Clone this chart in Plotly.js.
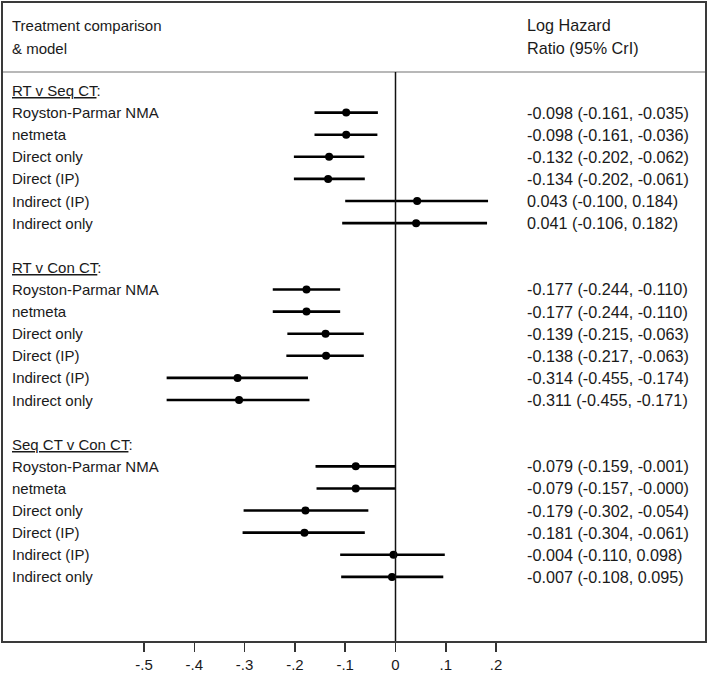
<!DOCTYPE html>
<html>
<head>
<meta charset="utf-8">
<script src="https://cdn.plot.ly/plotly-3.0.1.min.js"></script>
<style>html,body{margin:0;padding:0;background:#fff;}</style>
</head>
<body>
<div id="chart" style="width:709px;height:674px;"></div>
<script>
// ---- data ----
const comparisons = ["RT v Seq CT", "RT v Con CT", "Seq CT v Con CT"];
const models = ["Royston-Parmar NMA", "netmeta", "Direct only", "Direct (IP)", "Indirect (IP)", "Indirect only"];

const estRTvSeq = [-0.098, -0.098, -0.132, -0.134, 0.043, 0.041];
const loRTvSeq  = [-0.161, -0.161, -0.202, -0.202, -0.100, -0.106];
const hiRTvSeq  = [-0.035, -0.036, -0.062, -0.061, 0.184, 0.182];

const estRTvCon = [-0.177, -0.177, -0.139, -0.138, -0.314, -0.311];
const loRTvCon  = [-0.244, -0.244, -0.215, -0.217, -0.455, -0.455];
const hiRTvCon  = [-0.110, -0.110, -0.063, -0.063, -0.174, -0.171];

const estSeqvCon = [-0.079, -0.079, -0.179, -0.181, -0.004, -0.007];
const loSeqvCon  = [-0.159, -0.157, -0.302, -0.304, -0.110, -0.108];
const hiSeqvCon  = [-0.001, -0, -0.054, -0.061, 0.098, 0.095];

const tickVals = [-0.5, -0.4, -0.3, -0.2, -0.1, 0, 0.1, 0.2];
const tickText = ["-.5", "-.4", "-.3", "-.2", "-.1", "0", ".1", ".2"];

const headerLeft = ["Treatment comparison", "& model"];
const headerRight = ["Log Hazard", "Ratio (95% CrI)"];

// ---- build ----
const groups = [
  {est: estRTvSeq, lo: loRTvSeq, hi: hiRTvSeq},
  {est: estRTvCon, lo: loRTvCon, hi: hiRTvCon},
  {est: estSeqvCon, lo: loSeqvCon, hi: hiSeqvCon}
];

function fmt(v) {
  const neg = v < 0 || Object.is(v, -0);
  return (neg ? "-" : "") + Math.abs(v).toFixed(3);
}

const FONT = "Liberation Sans, Arial, sans-serif";
const FS = 15;
const FSR = 16.2;
const TXT = "#1a1a1a";

const xs = [], ys = [], ep = [], em = [];
const annotations = [];
const leftX = 0.0100, rightX = 0.7436;

groups.forEach((g, gi) => {
  const base = gi * 8;
  annotations.push({
    xref: "paper", yref: "y", x: leftX, y: base, xanchor: "left", yanchor: "middle",
    text: "<span style='text-decoration:underline'>" + comparisons[gi] + "</span>:",
    showarrow: false, font: {family: FONT, size: FS, color: TXT}
  });
  models.forEach((m, i) => {
    const y = base + 1 + i;
    xs.push(g.est[i]); ys.push(y);
    ep.push(g.hi[i] - g.est[i]); em.push(g.est[i] - g.lo[i]);
    annotations.push({
      xref: "paper", yref: "y", x: leftX, y: y, xanchor: "left", yanchor: "middle",
      text: m, showarrow: false, font: {family: FONT, size: FS, color: TXT}
    });
    annotations.push({
      xref: "paper", yref: "y", x: rightX, y: y, xanchor: "left", yanchor: "middle",
      text: fmt(g.est[i]) + " (" + fmt(g.lo[i]) + ", " + fmt(g.hi[i]) + ")",
      showarrow: false, font: {family: FONT, size: FSR, color: TXT}
    });
  });
});

const hdrY = [-2.96, -1.92];
headerLeft.forEach((t, i) => annotations.push({
  xref: "paper", yref: "y", x: leftX, y: hdrY[i], xanchor: "left", yanchor: "middle",
  text: t, showarrow: false, font: {family: FONT, size: FS, color: TXT}
}));
headerRight.forEach((t, i) => annotations.push({
  xref: "paper", yref: "y", x: rightX, y: hdrY[i], xanchor: "left", yanchor: "middle",
  text: t, showarrow: false, font: {family: FONT, size: FSR, color: TXT}
}));

const trace = {
  type: "scatter", mode: "markers", x: xs, y: ys,
  marker: {color: "#000", size: 8},
  error_x: {type: "data", symmetric: false, array: ep, arrayminus: em,
            color: "#000", thickness: 2.6, width: 0},
  hoverinfo: "skip", showlegend: false, cliponaxis: false
};

const sepY = 1 - (72 - 3) / 638;

const layout = {
  width: 709, height: 674,
  margin: {l: 3, r: 4, t: 3, b: 33, pad: 0},
  paper_bgcolor: "#fff", plot_bgcolor: "#fff",
  showlegend: false,
  xaxis: {
    range: [-0.7803, 0.6153], showgrid: false, zeroline: false,
    showline: true, mirror: true, linecolor: "#3a3a3a", linewidth: 2,
    ticks: "outside", ticklen: 9, tickwidth: 1.5, tickcolor: "#333",
    tickvals: tickVals, ticktext: tickText,
    tickfont: {family: FONT, size: FS, color: TXT}, fixedrange: true
  },
  yaxis: {
    range: [24.9, -3.957], showgrid: false, zeroline: false,
    showline: true, mirror: true, linecolor: "#3a3a3a", linewidth: 2,
    showticklabels: false, ticks: "", fixedrange: true
  },
  shapes: [
    {type: "line", xref: "paper", yref: "paper", x0: 0, x1: 1, y0: sepY, y1: sepY,
     line: {color: "#a0a0a0", width: 1.5}},
    {type: "line", xref: "x", yref: "paper", x0: 0, x1: 0, y0: 0, y1: sepY,
     line: {color: "#111", width: 1.5}}
  ],
  annotations: annotations
};

Plotly.newPlot("chart", [trace], layout, {displayModeBar: false, staticPlot: true});
</script>
</body>
</html>
